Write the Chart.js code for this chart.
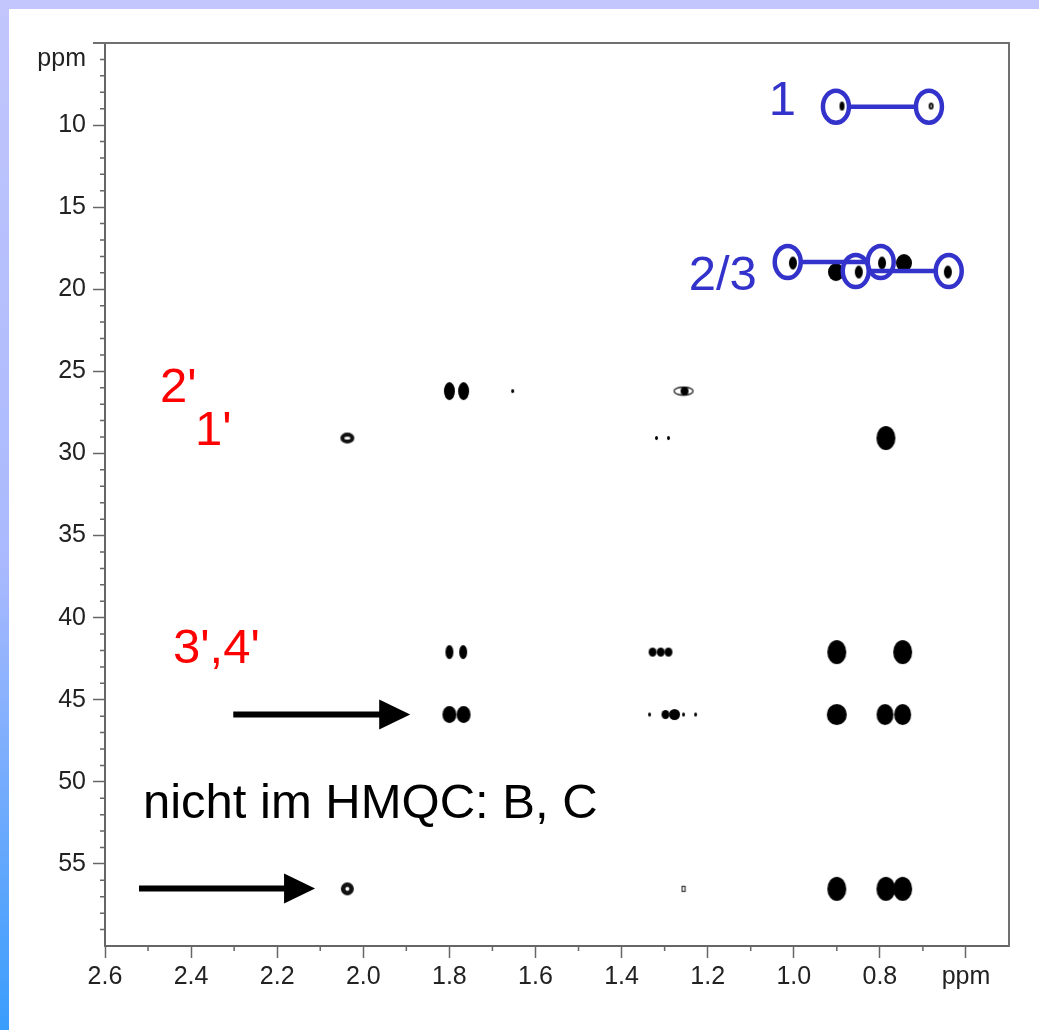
<!DOCTYPE html>
<html lang="de">
<head>
<meta charset="UTF-8" />
<title>HMBC 2D-Spektrum</title>
<script src="https://cdn.jsdelivr.net/npm/chart.js"></script>
<style>
  html, body { margin: 0; padding: 0; background: #ffffff; }
  body { width: 1039px; height: 1030px; position: relative; overflow: hidden; }
  .band-top { position: absolute; left: 0; top: 0; width: 1039px; height: 9px; background: #c2c6fc; }
  .band-left { position: absolute; left: 0; top: 0; width: 9px; height: 1030px;
    background: linear-gradient(#c2c6fc, #a9b9fd 55%, #3a9dfc); }
  #hmbc { position: absolute; left: 0; top: 0; }
</style>
</head>
<body>
<div class="band-top"></div>
<div class="band-left"></div>
<canvas id="hmbc" width="1039" height="1030"></canvas>
<script>
// Achsen
const xTickValues = [2.6, 2.4, 2.2, 2.0, 1.8, 1.6, 1.4, 1.2, 1.0, 0.8, 0.6];
const xTickLabels = ["2.6", "2.4", "2.2", "2.0", "1.8", "1.6", "1.4", "1.2", "1.0", "0.8", "ppm"];
const yTickValues = [6, 10, 15, 20, 25, 30, 35, 40, 45, 50, 55];
const yTickLabels = ["ppm", "10", "15", "20", "25", "30", "35", "40", "45", "50", "55"];

// Kreuzsignale: 1H (ppm), 13C (ppm), Signaltyp
const protonShift = [
  0.888, 0.681,
  1.002, 0.902, 0.849, 0.795, 0.744, 0.642,
  1.800, 1.767, 1.653, 1.256,
  2.037, 1.319, 1.291, 0.786,
  1.800, 1.768, 1.328, 1.309, 1.291, 0.900, 0.747,
  1.335, 1.298, 1.277, 1.256, 1.228, 1.800, 1.767, 0.900, 0.788, 0.747,
  2.037, 1.256, 0.900, 0.786, 0.747
];
const carbonShift = [
  8.84, 8.84,
  18.40, 18.95, 18.95, 18.40, 18.40, 18.95,
  26.20, 26.20, 26.20, 26.20,
  29.06, 29.06, 29.06, 29.06,
  42.10, 42.10, 42.10, 42.10, 42.10, 42.10, 42.10,
  45.90, 45.90, 45.90, 45.90, 45.90, 45.90, 45.90, 45.90, 45.90, 45.90,
  56.52, 56.52, 56.52, 56.52, 56.52
];
const peakType = [
  "dot", "ring",
  "mid", "big", "mid", "mid", "big", "mid",
  "pair", "pair", "trace", "flat",
  "oval", "trace", "trace", "strong",
  "slim", "slim", "small", "small", "small", "strong", "strong",
  "trace", "small", "medium", "trace", "trace", "wide", "wide", "round", "tall", "tall",
  "hollow", "box", "strong", "strong", "strong"
];

// Markierungen (blau)
const circleH = [0.902, 0.686, 1.014, 0.856, 0.798, 0.640];
const circleC = [8.88, 8.88, 18.34, 18.89, 18.34, 18.89];
const circleLinks = [[0, 1], [2, 4], [3, 5]];

// Pfeile
const arrowFromH = [2.302, 2.521];
const arrowToH = [1.891, 2.112];
const arrowC = [45.9, 56.5];

// Beschriftungen
const noteText = ["2'", "1'", "3',4'", "1", "2/3", "nicht im HMQC: B, C"];
const noteH = [2.472, 2.391, 2.442, 1.058, 1.244, 2.512];
const noteC = [26.86, 29.48, 42.76, 9.385, 20.04, 52.2];
const noteColor = ["#ff0000", "#ff0000", "#ff0000", "#3333cc", "#3333cc", "#000000"];

const handFont = '"Comic Sans MS", "Liberation Sans", sans-serif';

// Formen der Konturen
function blob(w, h, ringWidth) {
  const c = document.createElement("canvas");
  c.width = w + 2;
  c.height = h + 2;
  const g = c.getContext("2d");
  g.beginPath();
  if (ringWidth) {
    g.ellipse(c.width / 2, c.height / 2, w / 2 - ringWidth / 2, h / 2 - ringWidth / 2, 0, 0, Math.PI * 2);
    g.lineWidth = ringWidth;
    g.strokeStyle = "#111";
    g.stroke();
  } else {
    g.ellipse(c.width / 2, c.height / 2, w / 2, h / 2, 0, 0, Math.PI * 2);
    g.fillStyle = "#000";
    g.fill();
  }
  return c;
}
function flatContour() {
  const c = document.createElement("canvas");
  c.width = 22; c.height = 11;
  const g = c.getContext("2d");
  g.strokeStyle = "#222"; g.lineWidth = 1.3;
  g.beginPath(); g.ellipse(11, 5.5, 9.5, 4, 0, 0, Math.PI * 2); g.stroke();
  g.fillStyle = "#000";
  g.beginPath(); g.ellipse(12, 5.5, 4, 4, 0, 0, Math.PI * 2); g.fill();
  return c;
}
function smallBox() {
  const c = document.createElement("canvas");
  c.width = 6; c.height = 8;
  const g = c.getContext("2d");
  g.strokeStyle = "#333"; g.lineWidth = 1.2;
  g.strokeRect(1.5, 1.5, 3, 5);
  return c;
}
const shapes = {
  dot: blob(5, 9),
  ring: blob(5, 7, 2),
  mid: blob(8, 13),
  big: blob(16, 18),
  pair: blob(11, 18),
  trace: blob(3, 4),
  flat: flatContour(),
  oval: blob(14, 11, 4),
  strong: blob(19, 24),
  slim: blob(8, 14),
  small: blob(8, 9),
  medium: blob(11, 11),
  wide: blob(14, 17),
  round: blob(20, 21),
  tall: blob(17, 21),
  hollow: blob(13, 13, 4.5),
  box: smallBox()
};

const peaks = protonShift.map((h, i) => ({ x: h, y: carbonShift[i], t: peakType[i] }));

const overlay = {
  id: "overlay",
  afterDatasetsDraw(chart) {
    const { ctx, chartArea: a, scales } = chart;
    const sx = scales.x, sy = scales.y;
    ctx.save();

    // Rahmen oben und rechts
    ctx.strokeStyle = "#707070";
    ctx.lineWidth = 2;
    ctx.beginPath();
    ctx.moveTo(a.left - 12, a.top);
    ctx.lineTo(a.right, a.top);
    ctx.lineTo(a.right, a.bottom);
    ctx.stroke();

    // Nebenstriche
    ctx.strokeStyle = "#666";
    ctx.lineWidth = 1.5;
    ctx.beginPath();
    for (let k = 7; k <= 25; k += 2) {
      const px = sx.getPixelForValue(k / 10);
      ctx.moveTo(px, a.bottom);
      ctx.lineTo(px, a.bottom + 5);
    }
    for (let v = 6; v < 60; v++) {
      if (v % 5 === 0) continue;
      const py = sy.getPixelForValue(v);
      ctx.moveTo(a.left - 5, py);
      ctx.lineTo(a.left, py);
    }
    ctx.stroke();

    // Verbindungslinien und Kreise
    const rx = 15, ry = 18;
    ctx.strokeStyle = "#3333cc";
    ctx.lineWidth = 4.5;
    circleLinks.forEach(([i, j]) => {
      const py = sy.getPixelForValue(circleC[i]);
      ctx.beginPath();
      ctx.moveTo(sx.getPixelForValue(circleH[i]) + rx - 2, py);
      ctx.lineTo(sx.getPixelForValue(circleH[j]) - rx + 2, py);
      ctx.stroke();
    });
    circleH.forEach((h, i) => {
      ctx.beginPath();
      ctx.ellipse(sx.getPixelForValue(h), sy.getPixelForValue(circleC[i]), rx - 2, ry - 2, 0, 0, Math.PI * 2);
      ctx.stroke();
    });

    // Pfeile
    ctx.strokeStyle = "#000";
    ctx.fillStyle = "#000";
    arrowC.forEach((c, i) => {
      const py = sy.getPixelForValue(c);
      const x0 = sx.getPixelForValue(arrowFromH[i]);
      const x1 = sx.getPixelForValue(arrowToH[i]);
      ctx.lineWidth = 6;
      ctx.beginPath();
      ctx.moveTo(x0, py);
      ctx.lineTo(x1 - 28, py);
      ctx.stroke();
      ctx.beginPath();
      ctx.moveTo(x1, py);
      ctx.lineTo(x1 - 31, py - 15);
      ctx.lineTo(x1 - 31, py + 15);
      ctx.closePath();
      ctx.fill();
    });

    // Texte
    ctx.textAlign = "left";
    ctx.textBaseline = "alphabetic";
    noteText.forEach((t, i) => {
      ctx.font = "49px " + handFont;
      ctx.fillStyle = noteColor[i];
      ctx.fillText(t, sx.getPixelForValue(noteH[i]), sy.getPixelForValue(noteC[i]));
    });
    ctx.restore();
  }
};

const tickFont = { family: '"Liberation Sans", Arial, sans-serif', size: 25 };

new Chart(document.getElementById("hmbc"), {
  type: "scatter",
  data: {
    datasets: [{
      label: "HMBC",
      data: peaks,
      pointStyle: (c) => (c.raw ? shapes[c.raw.t] : "circle"),
      pointRadius: 6,
      pointHoverRadius: 6
    }]
  },
  options: {
    responsive: false,
    animation: false,
    events: [],
    layout: { padding: { top: 43, right: 30, left: 0, bottom: 0 } },
    plugins: { legend: { display: false }, tooltip: { enabled: false } },
    scales: {
      x: {
        type: "linear",
        reverse: true,
        min: 0.5,
        max: 2.6,
        afterBuildTicks: (s) => { s.ticks = xTickValues.map((v) => ({ value: v })); },
        afterFit: (s) => { s.height = 84; },
        ticks: {
          callback: (v, i) => xTickLabels[i],
          font: tickFont,
          color: "#222",
          padding: 4,
          maxRotation: 0,
          autoSkip: false
        },
        grid: { drawOnChartArea: false, tickLength: 12, tickColor: "#666", tickWidth: 1.5 },
        border: { color: "#666", width: 2 }
      },
      y: {
        type: "linear",
        reverse: true,
        min: 5,
        max: 60,
        afterBuildTicks: (s) => { s.ticks = yTickValues.map((v) => ({ value: v })); },
        afterFit: (s) => { s.width = 105; },
        ticks: {
          callback: (v, i) => yTickLabels[i],
          font: tickFont,
          color: "#222",
          padding: 7,
          autoSkip: false
        },
        grid: {
          drawOnChartArea: false,
          tickLength: 12,
          tickWidth: 1.5,
          tickColor: (c) => (c.tick && c.tick.value === 6 ? "rgba(0,0,0,0)" : "#666")
        },
        border: { color: "#666", width: 2 }
      }
    }
  },
  plugins: [overlay]
});
</script>
</body>
</html>
